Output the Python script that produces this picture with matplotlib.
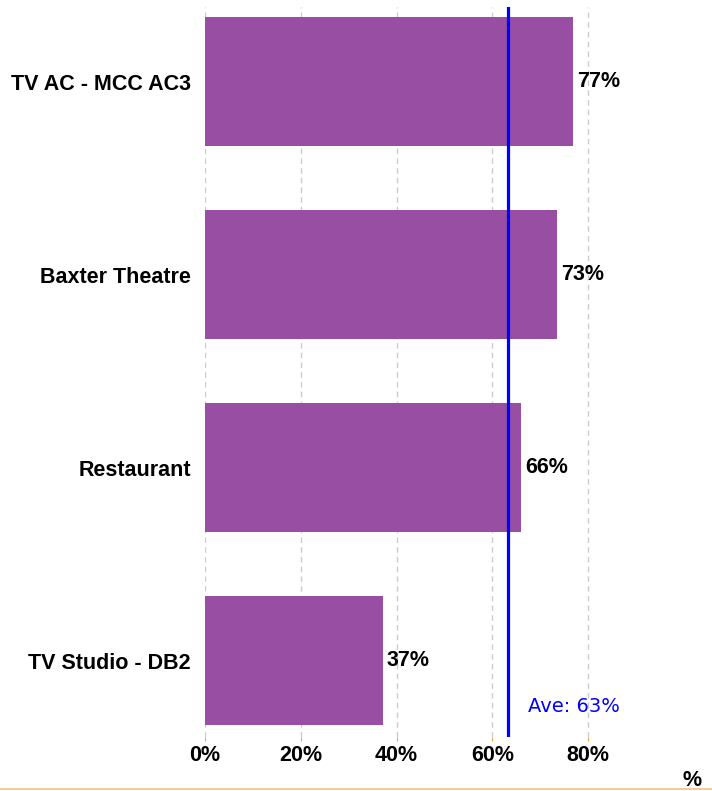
import matplotlib
matplotlib.use('Agg')
from matplotlib import pyplot as plt
from matplotlib.lines import Line2D

categories = ['TV AC - MCC AC3', 'Baxter Theatre', 'Restaurant', 'TV Studio - DB2']
values = [76.8, 73.4, 65.9, 37.1]
value_labels = ['77%', '73%', '66%', '37%']
average = 63.3
ticks = [0, 20, 40, 60, 80]

plt.rcParams['font.family'] = ['Liberation Sans', 'DejaVu Sans']

fig = plt.figure(figsize=(7.12, 7.91), dpi=100)
ax = fig.add_axes([205/712, 1 - 737/791, 479/712, 730/791])

ypos = list(range(len(categories)))
ax.barh(ypos, values, height=0.67, color='#984ea3', zorder=2)

# gridlines behind bars
ax.set_xticks(ticks)
ax.set_xticklabels(['%d%%' % t for t in ticks], fontsize=15.5, fontweight='bold')
ax.xaxis.grid(True, linestyle=(0, (4, 3)), color='#cccccc', linewidth=1, zorder=0)
ax.set_axisbelow(True)
ax.tick_params(axis='x', length=3, color='#f5a040', pad=3)
ax.tick_params(axis='y', length=0, pad=10)

ax.set_yticks(ypos)
ax.set_yticklabels(categories, fontsize=15.5, fontweight='bold')

for y, v, lab in zip(ypos, values, value_labels):
    ax.text(v + 0.9, y, lab, va='center', ha='left', fontsize=15.5, fontweight='bold')

# average line
ax.axvline(average, color='#0000ff', linewidth=2.3, zorder=3)
ax.text(average + 4.2, 3.24, 'Ave: %d%%' % round(average), color='#0000ff',
        fontsize=14, family='DejaVu Sans', va='center', ha='left')

ax.set_xlim(0, 100)
ax.set_ylim(3.396, -0.386)
for s in ax.spines.values():
    s.set_visible(False)

fig.text(692/712, 1 - 781/791, '%', fontsize=15.5, fontweight='bold', ha='center', va='center')
fig.add_artist(Line2D([0, 1], [1 - 789/791, 1 - 789/791], color='#f0c090', linewidth=1.2))

plt.savefig('out.png', dpi=100)
